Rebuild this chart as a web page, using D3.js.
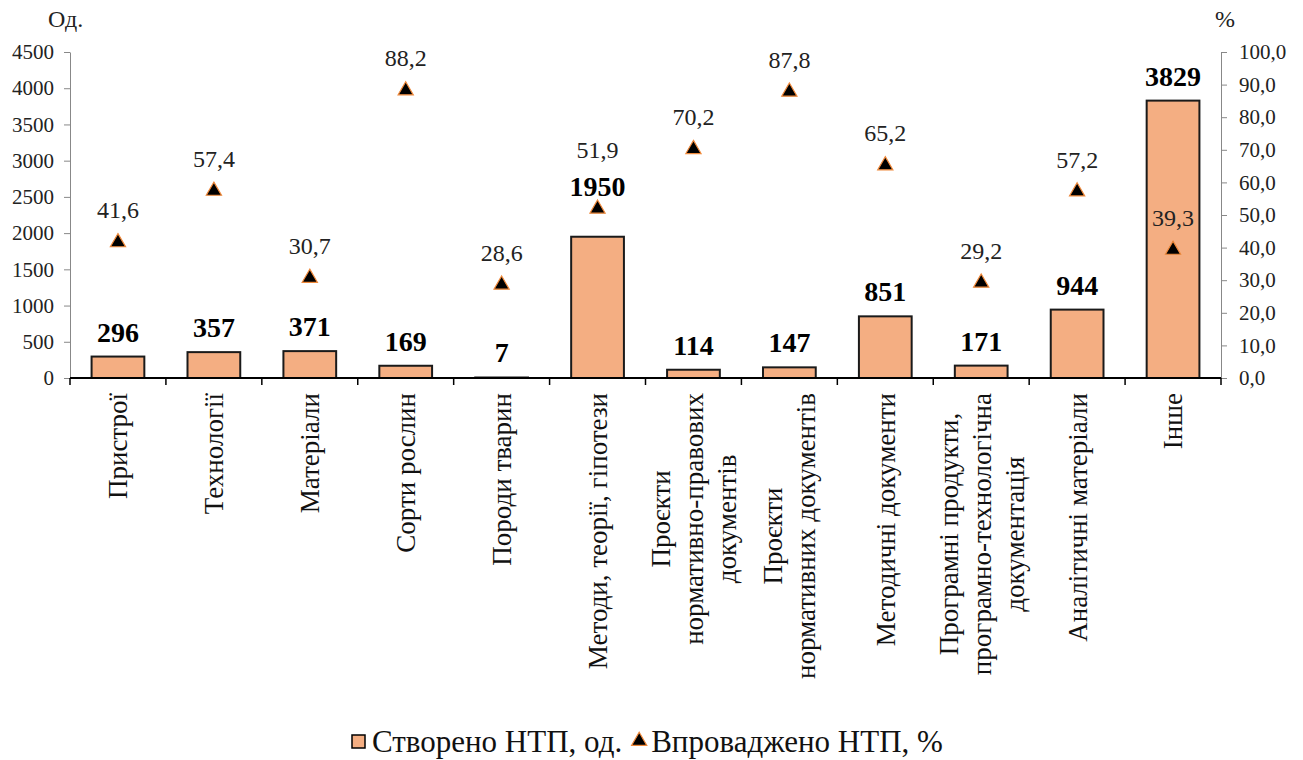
<!DOCTYPE html>
<html lang="uk">
<head>
<meta charset="utf-8">
<title>НТП</title>
<script src="https://cdn.jsdelivr.net/npm/d3@7"></script>
<style>
  body { margin: 0; background: #fff; }
  svg, svg text { font-family: "Liberation Serif", "Times New Roman", "DejaVu Serif", serif; }
</style>
</head>
<body>
<svg id="chart" width="1303" height="760"></svg>
<script>
// data
var categories = ["Пристрої", "Технології", "Матеріали", "Сорти рослин", "Породи тварин",
  "Методи, теорії, гіпотези", "Проєкти\nнормативно-правових\nдокументів",
  "Проєкти\nнормативних документів", "Методичні документи",
  "Програмні продукти,\nпрограмно-технологічна\nдокументація", "Аналітичні матеріали", "Інше"];
var created = [296, 357, 371, 169, 7, 1950, 114, 147, 851, 171, 944, 3829];
var implemented = [41.6, 57.4, 30.7, 88.2, 28.6, 51.9, 70.2, 87.8, 65.2, 29.2, 57.2, 39.3];
var leftTicks = [0, 500, 1000, 1500, 2000, 2500, 3000, 3500, 4000, 4500];
var rightTicks = [0, 10, 20, 30, 40, 50, 60, 70, 80, 90, 100];
var seriesNames = ["Створено НТП, од.", "Впроваджено НТП, %"];

var barColor = "#f4ae82";
var serif = "Liberation Serif";
var plotLeft = 70, plotRight = 1221, plotTop = 52, plotBottom = 378;

var svg = d3.select("#chart");

var x = d3.scaleBand()
  .domain(categories)
  .range([plotLeft, plotRight])
  .paddingInner(0.45)
  .paddingOuter(0.225);

var y = d3.scaleLinear().domain([0, 4500]).range([plotBottom, plotTop]);
var y2 = d3.scaleLinear().domain([0, 100]).range([plotBottom, plotTop]);

var fmt = function(v) { return d3.format(".1f")(v).replace(".", ","); };

// left axis
var gL = svg.append("g")
  .attr("transform", "translate(" + plotLeft + ",0)")
  .call(d3.axisLeft(y).tickValues(leftTicks).tickFormat(d3.format("d")).tickSize(6).tickPadding(10).tickSizeOuter(0));
gL.attr("font-family", serif);
gL.select(".domain").attr("stroke", "#888");
gL.selectAll(".tick line").attr("stroke", "#888");
gL.selectAll("text").attr("font-size", "21px").attr("fill", "#222");

// right axis
var gR = svg.append("g")
  .attr("transform", "translate(" + plotRight + ",0)")
  .call(d3.axisRight(y2).tickValues(rightTicks).tickFormat(fmt).tickSize(6).tickPadding(12).tickSizeOuter(0));
gR.attr("font-family", serif);
gR.select(".domain").attr("stroke", "#888");
gR.selectAll(".tick line").attr("stroke", "#888");
gR.selectAll("text").attr("font-size", "21px").attr("fill", "#222");

// bars
svg.selectAll("rect.bar")
  .data(created)
  .enter()
  .append("rect")
  .attr("class", "bar")
  .attr("x", function(d, i) { return x(categories[i]); })
  .attr("y", function(d) { return y(d); })
  .attr("width", x.bandwidth())
  .attr("height", function(d) { return plotBottom - y(d); })
  .attr("fill", barColor)
  .attr("stroke", "#1a1a1a")
  .attr("stroke-width", 2);

// bottom axis with ticks at band edges
svg.append("line")
  .attr("x1", plotLeft).attr("x2", plotRight)
  .attr("y1", plotBottom).attr("y2", plotBottom)
  .attr("stroke", "#000").attr("stroke-width", 2);
var edges = categories.map(function(c) { return x(c) - x.step() * x.paddingInner() / 2; });
edges.push(plotRight);
svg.selectAll("line.xtick")
  .data(edges)
  .enter()
  .append("line")
  .attr("class", "xtick")
  .attr("x1", function(d) { return d; }).attr("x2", function(d) { return d; })
  .attr("y1", plotBottom).attr("y2", plotBottom + 7)
  .attr("stroke", "#000").attr("stroke-width", 1.5);

// category labels (rotated, multi-line centred)
var labelTop = 393, lineGap = 33;
categories.forEach(function(c) {
  var lines = c.split("\n");
  var g = svg.append("g")
    .attr("transform", "translate(" + (x(c) + x.bandwidth() / 2) + "," + labelTop + ") rotate(-90)");
  var t = g.append("text")
    .attr("font-family", serif)
    .attr("font-size", "27px")
    .attr("fill", "#111")
    .attr("text-anchor", "middle");
  lines.forEach(function(l, i) {
    t.append("tspan")
      .attr("x", 0)
      .attr("y", (i - (lines.length - 1) / 2) * lineGap)
      .attr("dy", "0.35em")
      .text(l);
  });
  var maxLen = 0;
  t.selectAll("tspan").each(function() { maxLen = Math.max(maxLen, this.getComputedTextLength()); });
  t.selectAll("tspan").attr("x", -maxLen / 2);
});

// label placement: bar value goes above the triangle when the triangle sits just over the bar
function valY(i) {
  var barTop = y(created[i]), triY = y2(implemented[i]);
  if (triY < barTop && barTop - triY < 45) return triY - 13;
  return barTop - 15;
}
function pctY(i) {
  var barTop = y(created[i]), triY = y2(implemented[i]);
  if (triY < barTop && barTop - triY < 45) return valY(i) - 38;
  return triY - 24;
}

// triangles
var tri = d3.symbol().type(d3.symbolTriangle).size(100);
svg.selectAll("path.tri")
  .data(implemented)
  .enter()
  .append("path")
  .attr("class", "tri")
  .attr("d", tri)
  .attr("transform", function(d, i) { return "translate(" + (x(categories[i]) + x.bandwidth() / 2) + "," + y2(d) + ")"; })
  .attr("fill", "#000")
  .attr("stroke", "#f08a3c")
  .attr("stroke-width", 1.2);

svg.selectAll("text.pct")
  .data(implemented)
  .enter()
  .append("text")
  .attr("class", "pct")
  .attr("x", function(d, i) { return x(categories[i]) + x.bandwidth() / 2; })
  .attr("y", function(d, i) { return pctY(i); })
  .attr("text-anchor", "middle")
  .attr("font-family", serif)
  .attr("font-size", "24px")
  .attr("fill", "#222")
  .text(fmt);

// bar values
svg.selectAll("text.val")
  .data(created)
  .enter()
  .append("text")
  .attr("class", "val")
  .attr("x", function(d, i) { return x(categories[i]) + x.bandwidth() / 2; })
  .attr("y", function(d, i) { return valY(i); })
  .attr("text-anchor", "middle")
  .attr("font-family", serif)
  .attr("font-size", "28px")
  .attr("font-weight", "bold")
  .attr("fill", "#000")
  .text(function(d) { return d; });

// axis titles
svg.append("text").attr("x", 48).attr("y", 27).attr("font-family", serif).attr("font-size", "24px").attr("fill", "#222").text("Од.");
svg.append("text").attr("x", 1215).attr("y", 27).attr("font-family", serif).attr("font-size", "24px").attr("fill", "#222").text("%");

// legend
var lg = svg.append("g").attr("transform", "translate(352,752)");
lg.append("rect").attr("x", 0).attr("y", -17).attr("width", 13).attr("height", 13)
  .attr("fill", barColor).attr("stroke", "#000").attr("stroke-width", 1.5);
var t1 = lg.append("text").attr("x", 20).attr("y", 0).attr("font-family", serif).attr("font-size", "31px").attr("fill", "#111").text(seriesNames[0]);
var w1 = t1.node().getComputedTextLength();
lg.append("path").attr("d", tri)
  .attr("transform", "translate(" + (20 + w1 + 17) + ",-11)")
  .attr("fill", "#000").attr("stroke", "#f08a3c").attr("stroke-width", 1.2);
lg.append("text").attr("x", 20 + w1 + 29).attr("y", 0).attr("font-family", serif).attr("font-size", "31px").attr("fill", "#111").text(seriesNames[1]);
</script>
</body>
</html>
